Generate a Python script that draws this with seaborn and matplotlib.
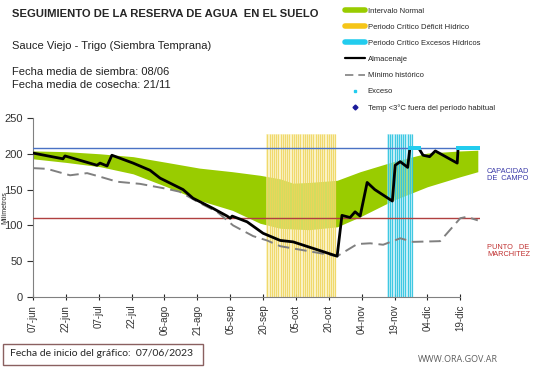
import numpy as np
import pandas as pd
import seaborn as sns
import matplotlib.pyplot as plt
from matplotlib.lines import Line2D
from matplotlib.patches import Rectangle

# ---- data (days counted from 07/06/2023) ----
start = pd.Timestamp("2023-06-07")

band_day = [0, 15, 30.6, 45.7, 61, 76, 91, 103.6, 112.8, 118.7, 126, 138.8, 149.3, 164.4, 180, 195, 203]
band_hi = [204, 203, 200, 196, 188, 180, 175, 170, 165, 159, 160, 163, 175, 189, 201, 204, 205]
band_lo = [193, 188, 182, 172, 154, 135, 121, 103, 96, 95, 94, 98, 112, 135, 154, 168, 175]

alm_day = [0, 13.7, 14.6, 29.2, 30.6, 33.8, 36, 45.7, 53.4, 58, 68.5, 73, 82, 88.6, 90, 90.9,
           97.7, 105, 112.8, 118.7, 138.8, 141, 144.7, 147, 149.3, 152.5, 156, 164, 165.3,
           167.6, 171, 172, 176, 178, 181, 183.6, 193.6, 194, 203]
alm_val = [201, 193, 197, 184, 187, 183, 198, 187, 177, 166, 150, 138, 124, 113, 110, 113,
           105, 89, 79, 77, 57, 114, 111, 119, 113, 160, 150, 134, 184,
           189, 181, 208, 208, 198, 196, 204, 187, 208, 208]

min_day = [0, 6.4, 16.9, 24.7, 30.6, 38.4, 48.9, 61.2, 67, 76.3, 84, 91.3, 100.5, 106.8, 112.8,
           138.8, 148, 153.9, 159.8, 167.6, 173.5, 185.8, 195, 198, 203]
min_val = [180, 179, 170, 173, 168, 161, 158, 151, 147, 131, 119, 100, 85, 79, 71,
           57, 74, 75, 73, 82, 77, 78, 110, 112, 107]

deficit_days = list(range(107, 139))
exceso_hid_days = list(range(162, 174))
exceso_days = [172, 173, 174, 175, 176, 194, 195, 196, 197, 198, 199, 200, 201, 202, 203]
critical_top = 228

capacidad = 208
marchitez = 111

tick_days = list(range(0, 196, 15))
tick_labels = ["07-jun", "22-jun", "07-jul", "22-jul", "06-ago", "21-ago", "05-sep",
               "20-sep", "05-oct", "20-oct", "04-nov", "19-nov", "04-dic", "19-dic"]

alm = pd.DataFrame({"dia": alm_day, "mm": alm_val})
mn = pd.DataFrame({"dia": min_day, "mm": min_val})

sns.set_style("white")
plt.rcParams["font.family"] = ["Liberation Sans", "DejaVu Sans"]

fig = plt.figure(figsize=(5.41, 3.68), dpi=100)
ax = fig.add_axes([33 / 541, 1 - 297 / 368, (480 - 33) / 541, (297 - 118) / 368])

ax.fill_between(band_day, band_lo, band_hi, color="#99cc00", lw=0, zorder=1)

# critical periods: pale background with one stripe per day
ax.bar(deficit_days, [critical_top] * len(deficit_days), width=1.0, color="#fbf0b0",
       alpha=0.55, lw=0, zorder=2)
ax.vlines(deficit_days, 0, critical_top, color="#eed45a", lw=0.9, alpha=0.85, zorder=2)
ax.bar(exceso_hid_days, [critical_top] * len(exceso_hid_days), width=1.0, color="#b8ecf6",
       alpha=0.55, lw=0, zorder=2)
ax.vlines(exceso_hid_days, 0, critical_top, color="#2ec4e0", lw=0.9, alpha=0.9, zorder=2)

ax.axhline(capacidad, color="#4a72c4", lw=1, zorder=3)
ax.axhline(marchitez, color="#b04040", lw=1, zorder=3)
sns.lineplot(data=mn, x="dia", y="mm", ax=ax, color="#808080", lw=1.4, zorder=4)
ax.lines[-1].set_linestyle((0, (6, 3)))
sns.lineplot(data=alm, x="dia", y="mm", ax=ax, color="black", lw=2, zorder=5)
ax.scatter(exceso_days, [capacidad] * len(exceso_days), s=5, marker="s",
           color="#22ccee", zorder=6, lw=0)

ax.set_xlim(0, 204)
ax.set_ylim(0, 250)
ax.set_yticks(range(0, 251, 50))
ax.set_xticks(tick_days)
ax.set_xticklabels(tick_labels, rotation=90, fontsize=7, color="#333333")
ax.tick_params(axis="y", labelsize=8, colors="#333333", length=4, direction="out", left=True)
ax.tick_params(axis="x", length=4, direction="inout", bottom=True)
ax.set_xlabel("")
ax.set_ylabel("Milímetros", fontsize=5, labelpad=-3)
for s in ["top", "right"]:
    ax.spines[s].set_visible(False)
for s in ["left", "bottom"]:
    ax.spines[s].set_color("#808080")
ax.spines["bottom"].set_bounds(0, 195)

# ---- texts ----
fig.text(12 / 541, 1 - 14 / 368, "SEGUIMIENTO DE LA RESERVA DE AGUA  EN EL SUELO",
         fontsize=8.1, fontweight="bold", va="center")
fig.text(12 / 541, 1 - 46 / 368, "Sauce Viejo - Trigo (Siembra Temprana)",
         fontsize=8, va="center", color="#222222")
fig.text(12 / 541, 1 - 72 / 368, "Fecha media de siembra: 08/06", fontsize=8, va="center",
         color="#222222")
fig.text(12 / 541, 1 - 85 / 368, "Fecha media de cosecha: 21/11", fontsize=8, va="center",
         color="#222222")
fig.text(487 / 541, 1 - 175 / 368, "CAPACIDAD\nDE  CAMPO", fontsize=5.3, color="#3a3aa8",
         va="center", linespacing=1.1)
fig.text(487 / 541, 1 - 251 / 368, "PUNTO   DE\nMARCHITEZ", fontsize=5.3, color="#c03030",
         va="center", linespacing=1.1)
fig.text(10 / 541, 1 - 354 / 368, "Fecha de inicio del gráfico:  07/06/2023",
         fontsize=7.5, va="center", family=["Lato", "DejaVu Sans"])
fig.patches.append(Rectangle((3 / 541, 1 - 365 / 368), 200 / 541, 21 / 368,
                             transform=fig.transFigure, fill=False, ec="#8a6060", lw=1))
fig.text(498 / 541, 1 - 360 / 368, "WWW.ORA.GOV.AR", fontsize=6.5, color="#606060",
         va="center", ha="right", family=["Open Sans", "DejaVu Sans"])

handles = [
    Line2D([], [], color="#99cc00", lw=4),
    Line2D([], [], color="#f5c518", lw=4),
    Line2D([], [], color="#22ccee", lw=4),
    Line2D([], [], color="black", lw=1.6),
    Line2D([], [], color="#808080", lw=1.2, ls=(0, (5, 3))),
    Line2D([], [], color="#22ccee", lw=0, marker="s", markersize=2),
    Line2D([], [], color="#1a1a9a", lw=0, marker="D", markersize=2.5),
]
labels = ["Intervalo Normal", "Periodo Crítico Déficit Hídrico",
          "Periodo Crítico Excesos Hídricos", "Almacenaje", "Mínimo histórico",
          "Exceso", "Temp <3°C fuera del período habitual"]
fig.legend(handles, labels, loc="upper left", bbox_to_anchor=(340 / 541, 1 - 2 / 368),
           frameon=False, fontsize=5.5, handlelength=2.6, handletextpad=0.3,
           labelspacing=1.15, borderpad=0.2)

fig.savefig("out.png", dpi=100)
